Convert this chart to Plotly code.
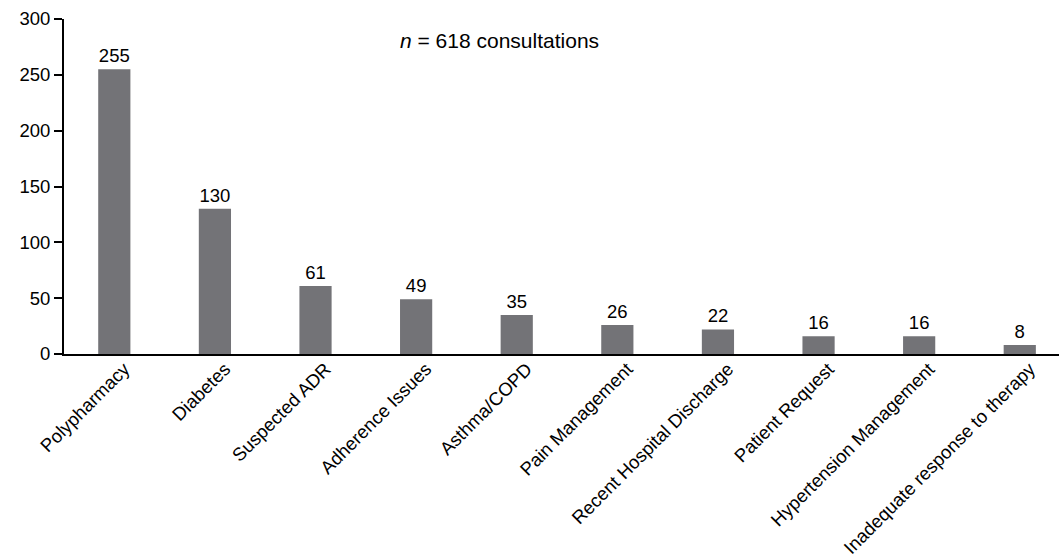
import plotly.graph_objects as go

# Reasons for pharmacist consultation and their counts
categories = [
    "Polypharmacy", "Diabetes", "Suspected ADR", "Adherence Issues",
    "Asthma/COPD", "Pain Management", "Recent Hospital Discharge",
    "Patient Request", "Hypertension Management",
    "Inadequate response to therapy",
]
counts = [255, 130, 61, 49, 35, 26, 22, 16, 16, 8]
y_ticks = [0, 50, 100, 150, 200, 250, 300]

FONT = "Liberation Sans, Arial, Helvetica, sans-serif"
SIZE = 18.5

fig = go.Figure(
    go.Bar(
        x=categories,
        y=counts,
        width=0.32,
        marker=dict(color="#737377", line=dict(width=0)),
        text=[str(c) for c in counts],
        textposition="outside",
        textfont=dict(family=FONT, size=SIZE, color="#000"),
        cliponaxis=False,
    )
)

fig.add_annotation(
    x=2.82, y=281, xref="x", yref="y",
    text="<i>n</i> = 618 consultations",
    showarrow=False, xanchor="left", yanchor="middle",
    font=dict(family=FONT, size=21, color="#000"),
)

fig.update_layout(
    width=1059, height=554,
    margin=dict(l=64, r=0, t=19, b=200),
    paper_bgcolor="white", plot_bgcolor="white",
    showlegend=False,
    font=dict(family=FONT, size=SIZE, color="#000"),
    xaxis=dict(
        range=[-0.5, 9.39],
        tickangle=-45,
        ticklabelshift=10,
        ticklabelstandoff=-5,
        automargin=False,
        showline=True, linecolor="#000", linewidth=2,
        ticks="", showgrid=False, zeroline=False,
        tickfont=dict(family=FONT, size=SIZE, color="#000"),
    ),
    yaxis=dict(
        range=[0, 300],
        tickvals=y_ticks,
        automargin=False,
        showline=True, linecolor="#000", linewidth=2,
        ticks="outside", ticklen=8, tickwidth=2, tickcolor="#000",
        showgrid=False, zeroline=False,
        tickfont=dict(family=FONT, size=SIZE, color="#000"),
    ),
    bargap=0.68,
)

fig.write_html("out.html")
